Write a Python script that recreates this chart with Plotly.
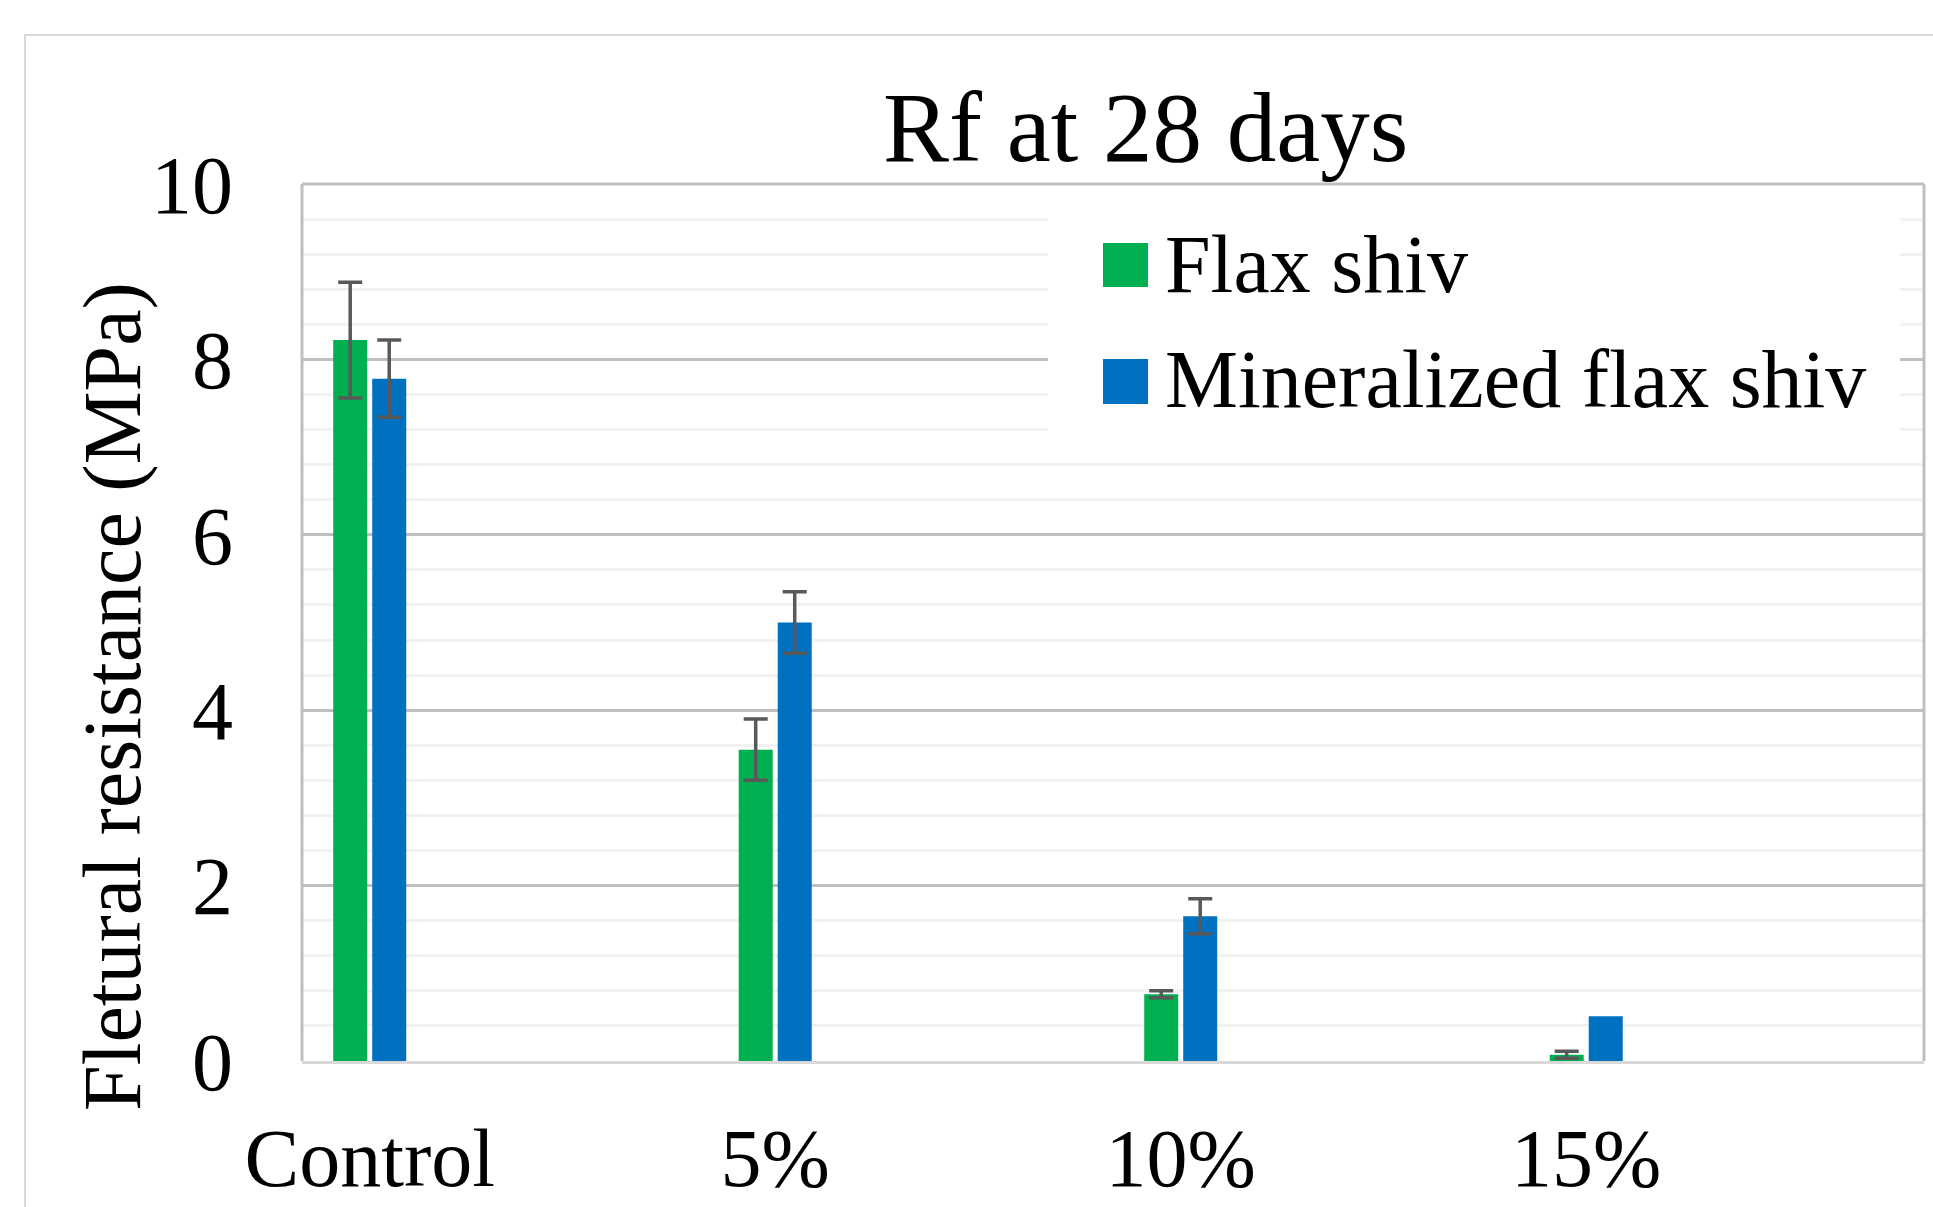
import plotly.graph_objects as go

# ---- data ----
categories = ["Control", "5%", "10%", "15%"]
flax = [8.22, 3.55, 0.76, 0.07]
flax_err = [0.66, 0.35, 0.04, 0.04]
mineral = [7.78, 5.00, 1.65, 0.51]
mineral_err = [0.44, 0.35, 0.20]  # no error bar shown for 15%
series_names = ["Flax shiv", "Mineralized flax shiv"]
title_text = "Rf at 28 days"
y_title = "Fletural resistance (MPa)"
y_ticks = [0, 2, 4, 6, 8, 10]

# ---- layout geometry (pixels) ----
W, H = 1933, 1207
L, R, T, B = 302, 1924, 184, 1061
FONT = "Liberation Serif, Times New Roman, serif"
GREEN, BLUE = "#00B050", "#0070C0"
AXIS_GRAY = "#BFBFBF"


def px_x(px):
    return (px - L) / (R - L)


def px_y(py):
    return (B - py) / (B - T)


fig = go.Figure()
fig.add_trace(go.Bar(
    x=categories, y=flax, name=series_names[0], marker_color=GREEN,
    marker_line_width=0,
    error_y=dict(type="data", array=flax_err, visible=True,
                 color="#595959", thickness=3.5, width=12),
    showlegend=False,
))
fig.add_trace(go.Bar(
    x=categories, y=mineral, name=series_names[1], marker_color=BLUE,
    marker_line_width=0,
    error_y=dict(type="data", array=mineral_err, visible=True,
                 color="#595959", thickness=3.5, width=12),
    showlegend=False,
))

shapes = [
    # outer chart border
    dict(type="rect", xref="paper", yref="paper",
         x0=px_x(25), x1=px_x(2100), y0=px_y(35), y1=px_y(1400),
         line=dict(color="#D9D9D9", width=2), fillcolor="rgba(0,0,0,0)", layer="below"),
    # legend background
    dict(type="rect", xref="paper", yref="paper",
         x0=px_x(1048), x1=px_x(1900), y0=px_y(190), y1=px_y(445),
         line=dict(width=0), fillcolor="white", layer="above"),
    # plot frame: top, left, right
    dict(type="line", xref="paper", yref="paper", x0=0, x1=1, y0=1, y1=1,
         line=dict(color=AXIS_GRAY, width=3), layer="above"),
    dict(type="line", xref="paper", yref="paper", x0=0, x1=0, y0=0, y1=1,
         line=dict(color=AXIS_GRAY, width=3), layer="above"),
    dict(type="line", xref="paper", yref="paper", x0=1, x1=1, y0=0, y1=1,
         line=dict(color=AXIS_GRAY, width=3), layer="above"),
    # legend swatches
    dict(type="rect", xref="paper", yref="paper",
         x0=px_x(1103), x1=px_x(1148), y0=px_y(243), y1=px_y(287),
         line=dict(width=0), fillcolor=GREEN, layer="above"),
    dict(type="rect", xref="paper", yref="paper",
         x0=px_x(1103), x1=px_x(1148), y0=px_y(359), y1=px_y(404),
         line=dict(width=0), fillcolor=BLUE, layer="above"),
]

annotations = [
    dict(text=title_text, xref="paper", yref="paper",
         x=px_x(1145), y=px_y(161 - 0.3375 * 99), xanchor="center", yanchor="middle",
         showarrow=False, font=dict(family=FONT, size=99, color="black"), borderpad=0),
    dict(text=y_title, xref="paper", yref="paper", textangle=-90,
         x=px_x(112), y=px_y(697), xanchor="center", yanchor="middle",
         showarrow=False, font=dict(family=FONT, size=82, color="black"), borderpad=0),
    dict(text=series_names[0], xref="paper", yref="paper",
         x=px_x(1164), y=px_y(292 - 0.3375 * 82), xanchor="left", yanchor="middle",
         showarrow=False, font=dict(family=FONT, size=82, color="black"), borderpad=0),
    dict(text=series_names[1], xref="paper", yref="paper",
         x=px_x(1164), y=px_y(407 - 0.3375 * 82), xanchor="left", yanchor="middle",
         showarrow=False, font=dict(family=FONT, size=82, color="black"), borderpad=0),
]

fig.update_layout(
    width=W, height=H,
    margin=dict(l=L, r=W - R, t=T, b=H - B, pad=0, autoexpand=False),
    paper_bgcolor="white", plot_bgcolor="white",
    barmode="group", bargap=0.8076, bargroupgap=0.128,
    shapes=shapes, annotations=annotations,
    showlegend=False,
    font=dict(family=FONT, color="black"),
)
fig.update_xaxes(
    type="category", range=[-0.167, 3.833], automargin=False,
    showline=True, linecolor="#D9D9D9", linewidth=3,
    showgrid=False, ticks="", ticklabelstandoff=24,
    tickfont=dict(family=FONT, size=82, color="black"),
)
fig.update_yaxes(
    range=[0, 10], tickvals=y_ticks, ticktext=[str(v) for v in y_ticks],
    automargin=False,
    showline=False, zeroline=False,
    showgrid=True, gridcolor=AXIS_GRAY, gridwidth=3,
    minor=dict(dtick=0.4, tick0=0, showgrid=True, gridcolor="#F2F2F2", gridwidth=3),
    ticks="", ticklabelstandoff=68,
    tickfont=dict(family=FONT, size=82, color="black"),
)

fig.write_html(
    "out.html",
    config={"displayModeBar": False},
    post_script="document.body.style.margin='0';document.body.style.overflow='hidden';",
)
